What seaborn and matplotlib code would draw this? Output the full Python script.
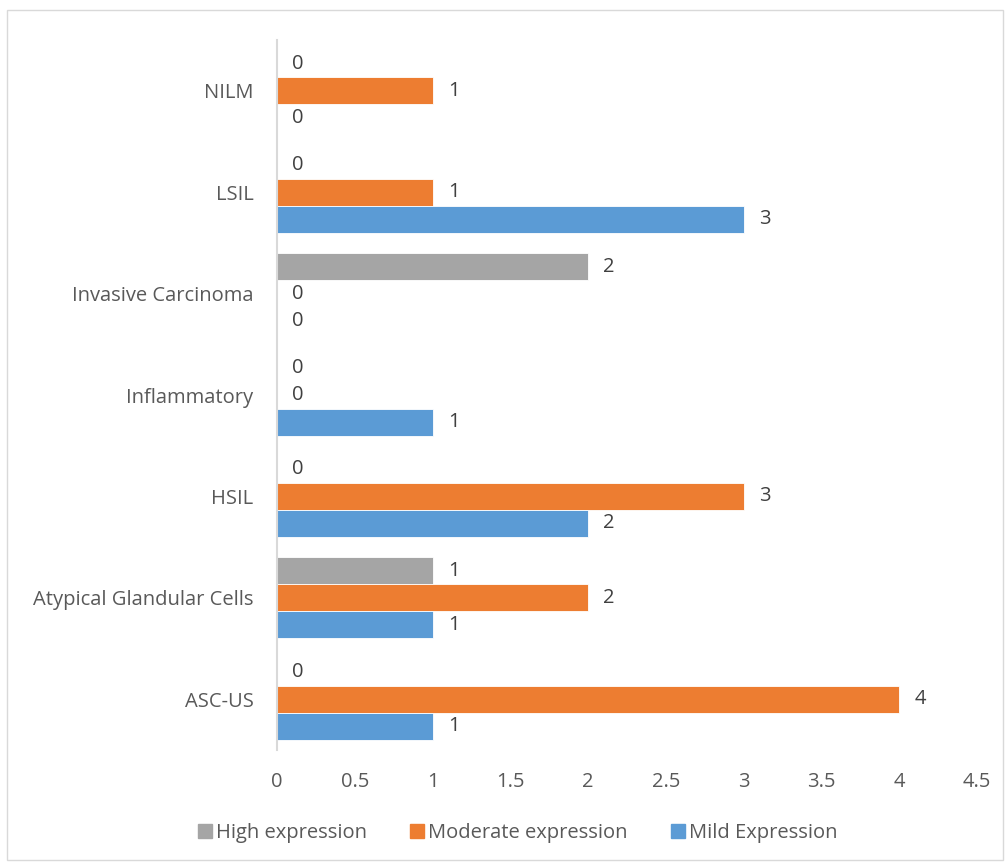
import matplotlib
matplotlib.use("Agg")
import matplotlib.pyplot as plt
import matplotlib.patches as mpatches
from matplotlib.lines import Line2D
import seaborn as sns
import pandas as pd
import numpy as np

categories = ["NILM", "LSIL", "Invasive Carcinoma", "Inflammatory", "HSIL",
              "Atypical Glandular Cells", "ASC-US"]
high = [0, 0, 2, 0, 0, 1, 0]
moderate = [1, 1, 0, 0, 3, 2, 4]
mild = [0, 3, 0, 1, 2, 1, 1]
series_names = ["High expression", "Moderate expression", "Mild Expression"]
colors = ["#A5A5A5", "#ED7D31", "#5B9BD5"]
x_ticks = [0, 0.5, 1, 1.5, 2, 2.5, 3, 3.5, 4, 4.5]

rows = []
for name, vals in zip(series_names, [high, moderate, mild]):
    for c, v in zip(categories, vals):
        rows.append({"category": c, "series": name, "value": v})
df = pd.DataFrame(rows)

sns.set_style("white")
plt.rcParams["font.family"] = ["Open Sans", "DejaVu Sans"]
text_color = "#595959"
fs = 14.5

fig = plt.figure(figsize=(10.06, 8.67), dpi=100)
ax = fig.add_axes([277/1006, 1-750/867, (977-277)/1006, (750-40)/867])

sns.barplot(data=df, y="category", x="value", hue="series", order=categories,
            hue_order=series_names, palette=colors, orient="h", width=0.8,
            saturation=1, ax=ax, legend=False, edgecolor="white", linewidth=0.6)

for cont in ax.containers:
    ax.bar_label(cont, fmt="%g", padding=11, fontsize=fs, color="#404040")

ax.set_xlim(0, 4.5)
ax.set_xticks(x_ticks)
ax.set_xticklabels([f"{t:g}" for t in x_ticks])
ax.set_xlabel("")
ax.set_ylabel("")
ax.tick_params(axis="x", length=0, pad=16, labelsize=fs, labelcolor=text_color)
ax.tick_params(axis="y", length=0, pad=17, labelsize=fs, labelcolor=text_color)
for s in ["top", "right", "bottom"]:
    ax.spines[s].set_visible(False)
ax.spines["left"].set_color("#D9D9D9")
ax.spines["left"].set_linewidth(1.5)

handles = [Line2D([0], [0], marker="s", linestyle="none", markersize=10,
                  markerfacecolor=c, markeredgecolor=c) for c in colors]
fig.legend(handles, series_names, loc="center", bbox_to_anchor=(0.513, 1-833/867),
           ncol=3, frameon=False, fontsize=fs, labelcolor=text_color,
           handletextpad=0.05, columnspacing=2.0, handlelength=1.0)

border = mpatches.Rectangle((7/1006, 1-860/867), (1003-7)/1006, (860-10)/867,
                            transform=fig.transFigure, fill=False,
                            edgecolor="#D9D9D9", linewidth=1)
fig.patches.append(border)

fig.savefig("out.png", dpi=100)
